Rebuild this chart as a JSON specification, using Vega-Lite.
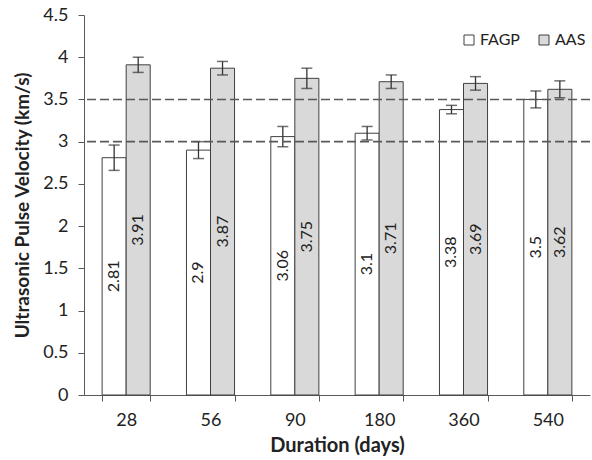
{
  "$schema": "https://vega.github.io/schema/vega-lite/v6.json",
  "width": 506,
  "height": 380,
  "autosize": "none",
  "padding": {"left": 84, "top": 15, "right": 2, "bottom": 65},
  "config": {
    "view": {"stroke": null},
    "font": "Lato",
    "axis": {"labelFont": "Lato", "titleFont": "Lato", "domainColor": "#595959", "tickColor": "#595959", "labelColor": "#222222", "titleColor": "#222222"}
  },
  "data": {
    "values": [
      {"d": 28, "s": "FAGP", "v": 2.81, "lo": 2.66, "hi": 2.96},
      {"d": 28, "s": "AAS", "v": 3.91, "lo": 3.82, "hi": 4.0},
      {"d": 56, "s": "FAGP", "v": 2.9, "lo": 2.8, "hi": 3.0},
      {"d": 56, "s": "AAS", "v": 3.87, "lo": 3.79, "hi": 3.95},
      {"d": 90, "s": "FAGP", "v": 3.06, "lo": 2.94, "hi": 3.18},
      {"d": 90, "s": "AAS", "v": 3.75, "lo": 3.63, "hi": 3.87},
      {"d": 180, "s": "FAGP", "v": 3.1, "lo": 3.02, "hi": 3.18},
      {"d": 180, "s": "AAS", "v": 3.71, "lo": 3.63, "hi": 3.79},
      {"d": 360, "s": "FAGP", "v": 3.38, "lo": 3.33, "hi": 3.43},
      {"d": 360, "s": "AAS", "v": 3.69, "lo": 3.61, "hi": 3.77},
      {"d": 540, "s": "FAGP", "v": 3.5, "lo": 3.4, "hi": 3.6},
      {"d": 540, "s": "AAS", "v": 3.62, "lo": 3.52, "hi": 3.72}
    ]
  },
  "encoding": {
    "x": {
      "field": "d", "type": "ordinal",
      "scale": {"paddingInner": 0.43, "paddingOuter": 0.215},
      "axis": {"title": "Duration (days)", "labelAngle": 0, "tickBand": "extent", "tickSize": 6, "labelFontSize": 18, "labelPadding": 10, "titleFontSize": 20, "titleFontWeight": "bold", "titlePadding": 6}
    },
    "xOffset": {"field": "s", "type": "nominal", "sort": ["FAGP", "AAS"]}
  },
  "layer": [
    {
      "mark": {"type": "bar", "stroke": "#404040", "strokeWidth": 1},
      "encoding": {
        "y": {
          "field": "v", "type": "quantitative",
          "scale": {"domain": [0, 4.5]},
          "axis": {"title": "Ultrasonic Pulse Velocity (km/s)", "values": [0, 0.5, 1, 1.5, 2, 2.5, 3, 3.5, 4, 4.5], "format": "~g", "grid": false, "tickSize": 6, "labelFontSize": 18, "labelPadding": 10, "titleFontSize": 19, "titleFontWeight": "bold", "titlePadding": 10}
        },
        "color": {
          "field": "s", "type": "nominal",
          "scale": {"domain": ["FAGP", "AAS"], "range": ["#ffffff", "#d9d9d9"]},
          "legend": {"title": null, "orient": "none", "legendX": 377, "legendY": 17, "direction": "horizontal", "symbolType": "square", "symbolSize": 100, "symbolStrokeColor": "#404040", "symbolStrokeWidth": 1, "labelFontSize": 16, "labelColor": "#222222", "columnPadding": 16, "labelOffset": 3}
        }
      }
    },
    {
      "transform": [{"calculate": "datum.v / 2", "as": "mid"}],
      "mark": {"type": "text", "angle": 270, "align": "center", "baseline": "middle", "fontSize": 16, "color": "#222222"},
      "encoding": {
        "y": {"field": "mid", "type": "quantitative"},
        "text": {"field": "v", "type": "quantitative"}
      }
    },
    {
      "mark": {"type": "rule", "color": "#333333", "strokeWidth": 1.3},
      "encoding": {
        "y": {"field": "lo", "type": "quantitative"},
        "y2": {"field": "hi"}
      }
    },
    {
      "mark": {"type": "tick", "color": "#333333", "thickness": 1.5, "size": 11, "orient": "horizontal"},
      "encoding": {"y": {"field": "lo", "type": "quantitative"}}
    },
    {
      "mark": {"type": "tick", "color": "#333333", "thickness": 1.5, "size": 11, "orient": "horizontal"},
      "encoding": {"y": {"field": "hi", "type": "quantitative"}}
    },
    {
      "data": {"values": [{"r": 3}, {"r": 3.5}]},
      "mark": {"type": "rule", "color": "#595959", "strokeWidth": 1.6, "strokeDash": [9, 4]},
      "encoding": {"y": {"field": "r", "type": "quantitative"}, "x": null, "xOffset": null}
    }
  ]
}
